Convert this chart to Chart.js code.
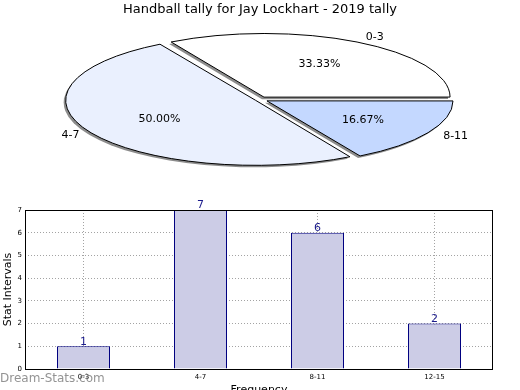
<!DOCTYPE html>
<html lang="en">
<head>
    <meta charset="UTF-8">
    <title>Handball tally for Jay Lockhart - 2019 tally</title>
    <script src="https://cdn.jsdelivr.net/npm/chart.js@4.4.1/dist/chart.umd.min.js"></script>
    <style>
        html, body { margin: 0; padding: 0; background: #fff; overflow: hidden; }
        body { width: 520px; height: 390px; position: relative; font-family: 'DejaVu Sans', sans-serif; }
        #pieChart { position: absolute; left: 0; top: 0; }
        #barChart { position: absolute; left: 0; top: 195px; }
        .watermark { position: absolute; left: 0; top: 371px; font-size: 12px; color: rgba(120,120,120,0.8); }
    </style>
</head>
<body>
    <canvas id="pieChart" width="520" height="200"></canvas>
    <canvas id="barChart" width="520" height="210"></canvas>
    <div class="watermark">Dream-Stats.com</div>

    <script>
        // pie data
        const pieLabels = ['0-3', '4-7', '8-11'];
        const pieShares = [33.33, 50.00, 16.67];
        const pieColors = ['#ffffff', '#eaf0fe', '#c4d8ff'];

        // bar data
        const barLabels = ['0-3', '4-7', '8-11', '12-15'];
        const barValues = [1, 7, 6, 2];

        const titleText = 'Handball tally for Jay Lockhart - 2019 tally';
        const SQUASH = 0.342;
        const font = 'DejaVu Sans';

        // matplotlib goes counterclockwise from 3 o'clock, chart.js goes clockwise
        const pieOrder = [2, 1, 0];
        const pieOffsets = [32, 20, 32];

        // squash the pie into an ellipse, keep stroke width even
        const squash = {
            id: 'squash',
            beforeDatasetsDraw(chart) {
                const ctx = chart.ctx;
                const a = chart.chartArea;
                const cx = (a.left + a.right) / 2, cy = (a.top + a.bottom) / 2;
                ctx.save();
                const base = ctx.getTransform();
                ctx.translate(cx, cy);
                ctx.scale(1, SQUASH);
                ctx.translate(-cx, -cy);
                ctx.shadowColor = 'rgba(0,0,0,0.45)';
                ctx.shadowOffsetX = -2;
                ctx.shadowOffsetY = 2;
                const stroke = ctx.stroke;
                ctx.stroke = function () {
                    this.save();
                    this.setTransform(base);
                    this.shadowColor = 'rgba(0,0,0,0)';
                    stroke.call(this);
                    this.restore();
                };
            },
            afterDatasetsDraw(chart) {
                delete chart.ctx.stroke;
                chart.ctx.restore();
            }
        };

        const pieText = {
            id: 'pieText',
            afterDraw(chart) {
                const ctx = chart.ctx;
                const a = chart.chartArea;
                const cx = (a.left + a.right) / 2, cy = (a.top + a.bottom) / 2;
                ctx.save();
                ctx.fillStyle = '#000';
                ctx.font = '13px ' + font;
                ctx.textAlign = 'center';
                ctx.textBaseline = 'middle';
                ctx.fillText(titleText, 260, 10);

                ctx.font = '11px ' + font;
                const meta = chart.getDatasetMeta(0);
                meta.data.forEach((arc, i) => {
                    const mid = (arc.startAngle + arc.endAngle) / 2;
                    const r = arc.outerRadius;
                    const ex = pieOffsets[i] / 4;
                    const c = Math.cos(mid), s = Math.sin(mid);
                    // percentage inside
                    ctx.textAlign = 'center';
                    ctx.fillText(chart.data.datasets[0].data[i].toFixed(2) + '%',
                        cx + c * (r * 0.6 + ex), cy + s * (r * 0.6 + ex) * SQUASH);
                    // label outside
                    ctx.textAlign = c < 0 ? 'right' : 'left';
                    ctx.fillText(chart.data.labels[i],
                        cx + c * (r * 1.1 + ex), cy + s * (r * 1.1 + ex) * SQUASH);
                });
                ctx.restore();
            }
        };

        new Chart(document.getElementById('pieChart'), {
            type: 'pie',
            data: {
                labels: pieOrder.map(i => pieLabels[i]),
                datasets: [{
                    data: pieOrder.map(i => pieShares[i]),
                    backgroundColor: pieOrder.map(i => pieColors[i]),
                    borderColor: '#000',
                    borderWidth: 1,
                    offset: pieOffsets,
                    clip: false
                }]
            },
            options: {
                responsive: false,
                animation: false,
                rotation: 90,
                radius: 185,
                layout: { padding: { top: 0, bottom: 1 } },
                events: [],
                plugins: {
                    legend: { display: false },
                    title: { display: false },
                    tooltip: { enabled: false }
                }
            },
            plugins: [squash, pieText]
        });

        const barText = {
            id: 'barText',
            afterDatasetsDraw(chart) {
                const ctx = chart.ctx;
                ctx.save();
                ctx.fillStyle = '#1c1c8c';
                ctx.font = '11px ' + font;
                ctx.textAlign = 'center';
                ctx.textBaseline = 'bottom';
                chart.getDatasetMeta(0).data.forEach((bar, i) => {
                    ctx.fillText(String(barValues[i]), bar.x, bar.y + 1);
                });
                ctx.restore();
            },
            afterDraw(chart) {
                const ctx = chart.ctx;
                const a = chart.chartArea;
                ctx.save();
                ctx.strokeStyle = '#000';
                ctx.lineWidth = 1;
                ctx.strokeRect(Math.round(a.left) + 0.5, Math.round(a.top) + 0.5,
                    Math.round(a.right - a.left) - 1, Math.round(a.bottom - a.top));
                ctx.restore();
            }
        };

        const gridStyle = {
            color: 'rgba(140,140,140,0.8)',
            lineWidth: 1,
            tickLength: 0,
            drawTicks: false
        };

        new Chart(document.getElementById('barChart'), {
            type: 'bar',
            data: {
                labels: barLabels,
                datasets: [{
                    data: barValues,
                    backgroundColor: '#ccccE6',
                    borderColor: '#000080',
                    borderWidth: 1,
                    barPercentage: 0.453,
                    categoryPercentage: 1
                }]
            },
            options: {
                responsive: false,
                animation: false,
                events: [],
                layout: { padding: { top: 15, right: 27, left: 0, bottom: 0 } },
                scales: {
                    x: {
                        z: 1,
                        afterFit(scale) { scale.height = 36; },
                        grid: Object.assign({ offset: false }, gridStyle),
                        border: { display: false, dash: [1, 2] },
                        ticks: { color: '#000', font: { family: font, size: 7 }, padding: 4, maxRotation: 0 },
                        title: { display: true, text: 'Frequency', color: '#000', font: { family: font, size: 11 }, padding: { top: 0, bottom: 8 } }
                    },
                    y: {
                        z: 1,
                        min: 0,
                        max: 7,
                        afterFit(scale) { scale.width = 25; },
                        grid: gridStyle,
                        border: { display: false, dash: [1, 2] },
                        ticks: { stepSize: 1, color: '#000', font: { family: font, size: 7 }, padding: 3 },
                        title: { display: true, text: 'Stat Intervals', color: '#000', font: { family: font, size: 11 }, padding: { top: 2, bottom: 0 } }
                    }
                },
                plugins: {
                    legend: { display: false },
                    title: { display: false },
                    tooltip: { enabled: false }
                }
            },
            plugins: [barText]
        });
    </script>
</body>
</html>
